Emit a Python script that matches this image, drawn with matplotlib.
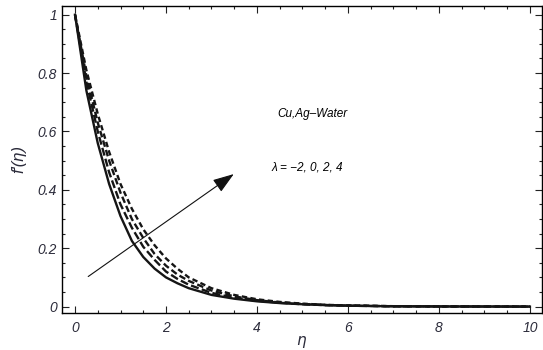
import numpy as np
import matplotlib
matplotlib.use("Agg")
from matplotlib import pyplot as plt
from matplotlib.ticker import MultipleLocator

# values (eta, f'(eta)) for lambda = -2, 0, 2, 4
eta = [0, 0.25, 0.5, 0.75, 1.0, 1.25, 1.5, 1.75, 2.0, 2.25, 2.5, 3.0, 3.5, 4.0, 4.5, 5.0, 5.5, 6.0, 7.0, 8.0, 10.0]
f_lam_m2 = [1, 0.74, 0.56, 0.42, 0.31, 0.225, 0.17, 0.13, 0.10, 0.08, 0.063, 0.04, 0.027, 0.018, 0.012, 0.008, 0.005, 0.003, 0.001, 0.0005, 0]
f_lam_0 = [1, 0.77, 0.60, 0.46, 0.35, 0.27, 0.205, 0.16, 0.12, 0.095, 0.075, 0.047, 0.03, 0.02, 0.013, 0.008, 0.005, 0.003, 0.001, 0.0005, 0]
f_lam_2 = [1, 0.79, 0.63, 0.50, 0.39, 0.30, 0.235, 0.18, 0.14, 0.11, 0.088, 0.055, 0.035, 0.022, 0.014, 0.009, 0.0055, 0.0035, 0.0012, 0.0005, 0]
f_lam_4 = [1, 0.81, 0.66, 0.53, 0.42, 0.335, 0.265, 0.21, 0.165, 0.13, 0.10, 0.063, 0.04, 0.025, 0.016, 0.01, 0.006, 0.004, 0.0014, 0.0005, 0]

curves = [f_lam_m2, f_lam_0, f_lam_2, f_lam_4]
dash_styles = [None, (3.4, 1.4), (2.8, 1.4), (2.3, 1.4)]

plt.rcParams['font.family'] = ['Liberation Sans', 'DejaVu Sans']

fig = plt.figure(figsize=(5.43, 3.5), dpi=100)
ax = fig.add_axes([0.1142, 0.1057, 0.8838, 0.8773])

for f, ds in zip(curves, dash_styles):
    line, = ax.plot(eta, f, color='#151515', lw=1.7)
    if ds is not None:
        line.set_dashes(ds)

ax.set_xlim(-0.286, 10.264)
ax.set_ylim(-0.022, 1.030)

ax.xaxis.set_minor_locator(MultipleLocator(0.5))
ax.yaxis.set_minor_locator(MultipleLocator(0.05))
ax.set_xticks([0, 2, 4, 6, 8, 10])
ax.set_xticklabels(['0', '2', '4', '6', '8', '10'])
ax.set_yticks([0, 0.2, 0.4, 0.6, 0.8, 1.0])
ax.set_yticklabels(['0', '0.2', '0.4', '0.6', '0.8', '1'])

ax.tick_params(which='both', direction='in', top=True, right=True, width=0.8,
               labelsize=10, colors='#222222')
ax.tick_params(which='major', length=5)
ax.tick_params(which='minor', length=2.5)
for lab in ax.get_xticklabels() + ax.get_yticklabels():
    lab.set_fontstyle('italic')
    lab.set_color('#2b2b3a')
ax.tick_params(axis='x', pad=6)
for s in ax.spines.values():
    s.set_linewidth(1.0)

ax.set_xlabel(r'$\eta$', fontsize=11, color='#2b2b3a', va='center')
ax.xaxis.set_label_coords(0.5, -0.095)
ax.set_ylabel("f'(η)", fontsize=12, style='italic', color='#2b2b3a', labelpad=8)

ax.annotate('', xy=(3.49, 0.454), xytext=(0.29, 0.103),
            arrowprops=dict(arrowstyle='-|>,head_length=1.3,head_width=0.45',
                            color='#111111', lw=0.8, shrinkA=0, shrinkB=0))
ax.text(4.44, 0.66, 'Cu,Ag–Water', fontsize=8.5, style='italic', va='center', ha='left')
ax.text(4.31, 0.478, 'λ = −2, 0, 2, 4', fontsize=8.5, style='italic', va='center', ha='left')

fig.savefig('out.png', dpi=100)
